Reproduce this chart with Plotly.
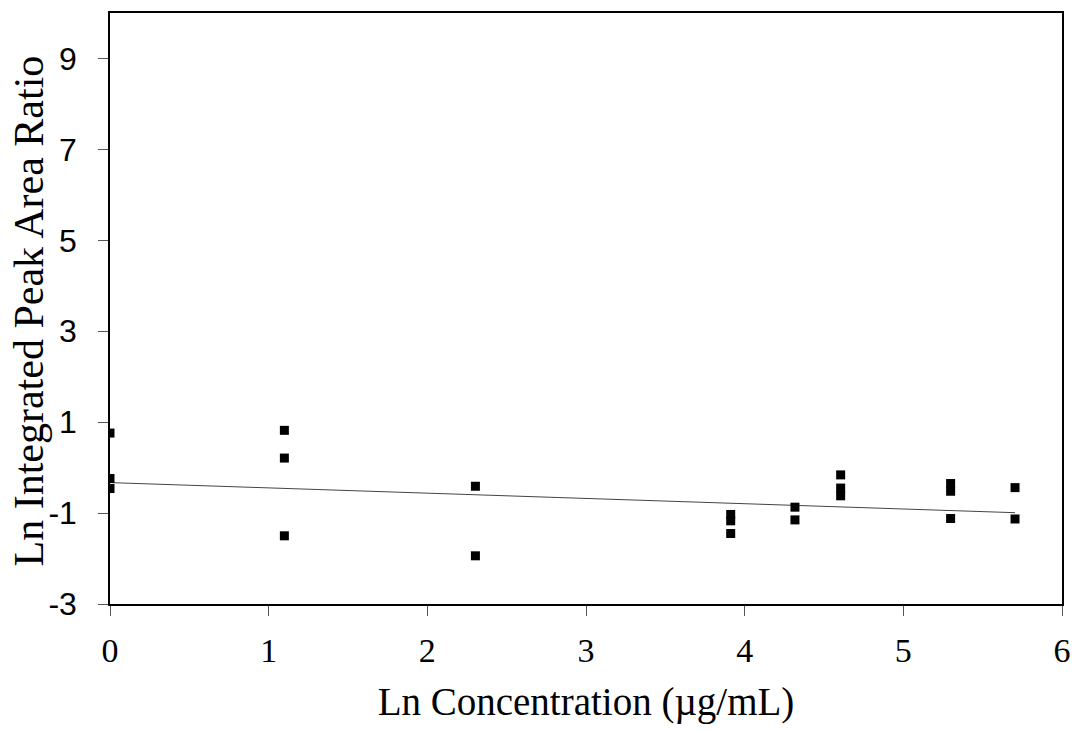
import plotly.graph_objects as go

# Data
conc_ln = [0.0, 0.0, 0.0,
           1.099, 1.099, 1.099,
           2.303, 2.303,
           3.912, 3.912, 3.912,
           4.317, 4.317,
           4.605, 4.605, 4.605,
           5.298, 5.298, 5.298,
           5.704, 5.704]
ratio_ln = [0.76, -0.24, -0.46,
            0.82, 0.21, -1.50,
            -0.41, -1.94,
            -1.03, -1.17, -1.45,
            -0.87, -1.15,
            -0.16, -0.45, -0.62,
            -0.35, -0.52, -1.12,
            -0.44, -1.13]

# Trend line as drawn in the reference
fit_intercept = -0.33
fit_slope = -0.116
fit_x = [0.0, 5.704]
fit_y = [fit_intercept + fit_slope * v for v in fit_x]

x_ticks = [0, 1, 2, 3, 4, 5, 6]
y_ticks = [-3, -1, 1, 3, 5, 7, 9]

x_title = "Ln Concentration (µg/mL)"
y_title = "Ln Integrated Peak Area Ratio"

fig = go.Figure()
fig.add_trace(go.Scatter(x=fit_x, y=fit_y, mode="lines",
                         line=dict(color="#444444", width=1), showlegend=False))
fig.add_trace(go.Scatter(x=conc_ln, y=ratio_ln, mode="markers",
                         marker=dict(symbol="square", size=9, color="black"),
                         showlegend=False))

fig.update_layout(
    width=1079, height=730,
    margin=dict(l=110, r=8, t=13, b=126),
    plot_bgcolor="white", paper_bgcolor="white",
    xaxis=dict(range=[0, 6], tickvals=x_ticks, ticktext=[str(v) for v in x_ticks],
               showgrid=False, zeroline=False, showline=True, mirror=True,
               linecolor="black", linewidth=1.5,
               ticks="outside", ticklen=10, tickcolor="#555555",
               ticklabelstandoff=5,
               tickfont=dict(family="Liberation Serif", size=34, color="black"),
               title=dict(text=x_title, standoff=20,
                          font=dict(family="Liberation Serif", size=39, color="black"))),
    yaxis=dict(range=[-3, 10], tickvals=y_ticks, ticktext=[str(v) for v in y_ticks],
               showgrid=False, zeroline=False, showline=True, mirror=True,
               linecolor="black", linewidth=1.5,
               ticks="outside", ticklen=10, tickcolor="#555555",
               ticklabelstandoff=15,
               tickfont=dict(family="Liberation Sans", size=32, color="black")),
    annotations=[dict(text=y_title, xref="paper", yref="paper", x=0, y=0.5,
                      xshift=-82, yshift=-3, xanchor="center", yanchor="middle",
                      textangle=-90, showarrow=False,
                      font=dict(family="Liberation Serif", size=42, color="black"))],
)

fig.write_html("out.html")
